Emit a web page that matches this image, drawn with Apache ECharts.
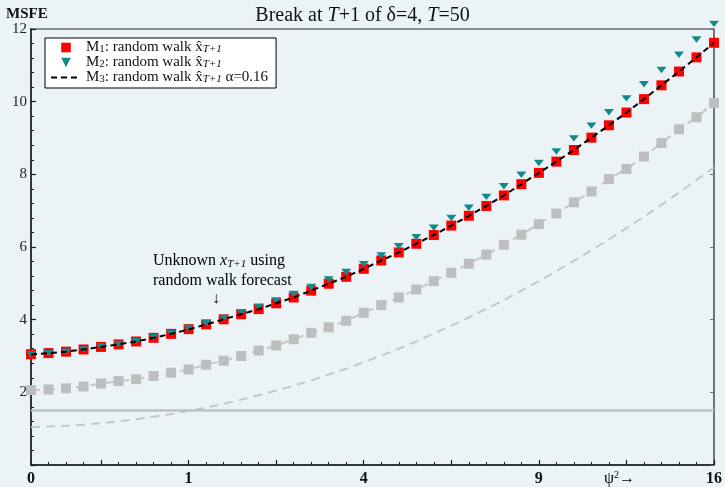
<!DOCTYPE html>
<html>
<head>
<meta charset="utf-8">
<script src="https://cdn.jsdelivr.net/npm/echarts@6/dist/echarts.min.js"></script>
<style>
  html, body { margin: 0; padding: 0; background: #ecf3f7; }
  #chart { width: 725px; height: 487px; }
</style>
</head>
<body>
<div id="chart"></div>
<script>
// psi values (x positions); axis is labelled in psi^2
const psi = [0.1, 0.2, 0.3, 0.4, 0.5, 0.6, 0.7, 0.8, 0.9, 1.0,
             1.1, 1.2, 1.3, 1.4, 1.5, 1.6, 1.7, 1.8, 1.9, 2.0,
             2.1, 2.2, 2.3, 2.4, 2.5, 2.6, 2.7, 2.8, 2.9, 3.0,
             3.1, 3.2, 3.3, 3.4, 3.5, 3.6, 3.7, 3.8, 3.9, 4.0];

// M1: random walk forecast (red squares)
const m1 = [3.05, 3.08, 3.12, 3.18, 3.25, 3.32, 3.40, 3.50, 3.61, 3.74,
            3.87, 4.01, 4.15, 4.29, 4.45, 4.61, 4.80, 4.99, 5.18, 5.40,
            5.63, 5.85, 6.09, 6.33, 6.59, 6.86, 7.13, 7.42, 7.73, 8.04,
            8.35, 8.67, 9.01, 9.35, 9.70, 10.07, 10.45, 10.83, 11.22, 11.62];

// M2: random walk forecast (teal triangles)
const m2 = [3.05, 3.08, 3.12, 3.18, 3.26, 3.33, 3.41, 3.52, 3.63, 3.77,
            3.90, 4.05, 4.20, 4.36, 4.53, 4.71, 4.90, 5.11, 5.31, 5.53,
            5.77, 6.02, 6.27, 6.53, 6.80, 7.08, 7.38, 7.67, 7.99, 8.31,
            8.63, 8.99, 9.34, 9.71, 10.09, 10.48, 10.87, 11.29, 11.71, 12.14];

// M3: random walk forecast with alpha = 0.16 (black dashed)
const m3 = [3.04, 3.08, 3.12, 3.18, 3.25, 3.32, 3.40, 3.50, 3.61, 3.73,
            3.87, 4.01, 4.15, 4.29, 4.45, 4.61, 4.80, 4.99, 5.18, 5.40,
            5.63, 5.85, 6.09, 6.33, 6.59, 6.86, 7.13, 7.42, 7.73, 8.04,
            8.35, 8.67, 9.01, 9.35, 9.70, 10.07, 10.45, 10.83, 11.22, 11.62];

// Unknown x_{T+1} using random walk forecast (grey squares)
const unknownRW = [2.06, 2.08, 2.11, 2.16, 2.24, 2.31, 2.36, 2.45, 2.54, 2.63,
                   2.76, 2.87, 3.00, 3.15, 3.29, 3.46, 3.64, 3.79, 3.97, 4.19,
                   4.40, 4.61, 4.83, 5.06, 5.29, 5.54, 5.79, 6.06, 6.34, 6.63,
                   6.92, 7.23, 7.53, 7.87, 8.15, 8.49, 8.86, 9.24, 9.57, 9.96];

// lower grey dashed curve
const lowerCurve = [1.04, 1.06, 1.08, 1.11, 1.15, 1.20, 1.26, 1.33, 1.40, 1.49,
                    1.58, 1.68, 1.80, 1.92, 2.05, 2.18, 2.33, 2.49, 2.65, 2.83,
                    3.01, 3.20, 3.40, 3.62, 3.83, 4.06, 4.30, 4.54, 4.80, 5.06,
                    5.34, 5.62, 5.91, 6.21, 6.52, 6.83, 7.16, 7.50, 7.84, 8.19];

// horizontal reference level
const benchmark = 1.5;

// x tick labels (psi^2) and their psi positions
const xLabelPos = [0.1, 1, 2, 3, 4];
const xLabelText = ['0', '1', '4', '9', '16'];
const xMajorTicks = [0.5, 1, 1.5, 2, 2.5, 3, 3.5, 4];

const pairs = (ys) => psi.map((p, i) => [p, ys[i]]);
const minorTicks = psi.slice();

const serif = '"Liberation Serif", "DejaVu Serif", serif';
const legendRich = {
  t: { fontFamily: serif, fontSize: 15, color: '#111', lineHeight: 14 },
  s: { fontFamily: serif, fontSize: 11, color: '#111', lineHeight: 2, verticalAlign: 'bottom' },
  si: { fontFamily: serif, fontSize: 11, fontStyle: 'italic', color: '#111', lineHeight: 2, verticalAlign: 'bottom' }
};
const legendNames = {
  M1: '{t|M}{s|1}{t|: random walk x̂}{si|T+1}',
  M2: '{t|M}{s|2}{t|: random walk x̂}{si|T+1}',
  M3: '{t|M}{s|3}{t|: random walk x̂}{si|T+1}{t| α=0.16}'
};

const chart = echarts.init(document.getElementById('chart'));

const axisBlack = '#1a1a1a';

chart.setOption({
  backgroundColor: '#ecf3f7',
  animation: false,
  title: {
    text: '{n|Break at }{i|T}{n|+1 of δ=4, }{i|T}{n|=50}',
    left: 'center',
    top: 1,
    textStyle: {
      fontWeight: 'normal',
      rich: {
        n: { fontFamily: serif, fontSize: 20, fontWeight: 'normal', color: '#111' },
        i: { fontFamily: serif, fontSize: 20, fontWeight: 'normal', fontStyle: 'italic', color: '#111' }
      }
    }
  },
  grid: {
    left: 31, right: 10, top: 29, bottom: 21,
    show: true, borderColor: '#6b6b6b', borderWidth: 1.5,
    backgroundColor: 'transparent'
  },
  legend: {
    orient: 'vertical',
    left: 45, top: 38,
    backgroundColor: '#ffffff',
    borderColor: '#000', borderWidth: 1, borderRadius: 0,
    padding: [2, 8, 3, 5],
    itemWidth: 30, itemHeight: 12, itemGap: 0,
    selectedMode: false,
    formatter: (name) => legendNames[name],
    textStyle: { rich: legendRich },
    data: [
      { name: 'M1', lineStyle: { opacity: 0 } },
      { name: 'M2', lineStyle: { opacity: 0 } },
      { name: 'M3', itemStyle: { opacity: 0 } }
    ]
  },
  xAxis: [
    {
      type: 'value', min: 0.1, max: 4,
      axisLine: { show: true, lineStyle: { color: axisBlack, width: 1.5 } },
      axisTick: { show: true, inside: true, length: 5, customValues: xMajorTicks,
                  lineStyle: { color: axisBlack, width: 1.2 } },
      axisLabel: {
        show: true, customValues: xLabelPos, margin: 6,
        formatter: (v) => {
          const k = xLabelPos.findIndex(p => Math.abs(p - v) < 1e-6);
          return k >= 0 ? xLabelText[k] : '';
        },
        fontFamily: serif, fontSize: 16, fontWeight: 'bold', color: '#111'
      },
      splitLine: { show: false }
    },
    {
      type: 'value', min: 0.1, max: 4, position: 'bottom',
      axisLine: { show: false },
      axisTick: { show: true, inside: true, length: 3, customValues: minorTicks,
                  lineStyle: { color: axisBlack, width: 1 } },
      axisLabel: { show: false },
      splitLine: { show: false }
    }
  ],
  yAxis: [
    {
      type: 'value', min: 0, max: 12, interval: 2,
      axisLine: { show: true, lineStyle: { color: axisBlack, width: 1.5 } },
      axisTick: { show: true, inside: true, length: 5, lineStyle: { color: axisBlack, width: 1.2 } },
      minorTick: { show: true, splitNumber: 5, length: 3, lineStyle: { color: axisBlack, width: 1 } },
      axisLabel: {
        showMinLabel: false, margin: 4,
        fontFamily: serif, fontSize: 15, color: '#222'
      },
      splitLine: { show: false },
      minorSplitLine: { show: false }
    },
    {
      type: 'value', min: 0, max: 12, interval: 2, position: 'right',
      axisLine: { show: true, lineStyle: { color: '#6b6b6b', width: 1.5 } },
      axisTick: { show: true, inside: true, length: 4, lineStyle: { color: '#6b6b6b' } },
      axisLabel: { show: false },
      splitLine: { show: false }
    }
  ],
  series: [
    {
      name: 'lower',
      type: 'line',
      data: pairs(lowerCurve),
      symbol: 'none',
      lineStyle: { color: '#c6c6c6', width: 2, type: [9, 6] },
      z: 1,
      markLine: {
        silent: true,
        symbol: 'none',
        label: { show: false },
        lineStyle: { color: '#c0c0c0', width: 2.5, type: 'solid' },
        data: [{ yAxis: benchmark }]
      }
    },
    {
      name: 'unknownRW',
      type: 'line',
      data: pairs(unknownRW),
      symbol: 'rect', symbolSize: 10, showAllSymbol: true,
      itemStyle: { color: '#bebebe' },
      lineStyle: { color: '#c6c6c6', width: 2, type: [9, 6] },
      z: 2
    },
    {
      name: 'M1',
      type: 'line',
      data: pairs(m1),
      symbol: 'rect', symbolSize: 10, showAllSymbol: true,
      itemStyle: { color: '#ff0000' },
      lineStyle: { width: 0, opacity: 0 },
      z: 3
    },
    {
      name: 'M2',
      type: 'line',
      data: pairs(m2),
      symbol: 'path://M0,0 L10,0 L5,8 Z', symbolSize: [10, 8], symbolKeepAspect: true,
      showAllSymbol: true,
      clip: false,
      itemStyle: { color: '#138a8a' },
      lineStyle: { width: 0, opacity: 0 },
      z: 4
    },
    {
      name: 'M3',
      type: 'line',
      data: pairs(m3),
      symbol: 'none',
      itemStyle: { color: '#000' },
      lineStyle: { color: '#000', width: 2, type: [6, 4] },
      z: 5
    }
  ],
  graphic: [
    {
      type: 'text', left: 6, top: 7,
      style: { text: 'MSFE', font: 'bold 15px ' + serif, fill: '#111' }
    },
    {
      type: 'text', left: 153, top: 252,
      style: {
        text: '{t|Unknown }{x|x}{s|T+1}{t| using}\n{t|random walk forecast}',
        rich: {
          t: { fontFamily: serif, fontSize: 16, color: '#111', lineHeight: 20 },
          x: { fontFamily: serif, fontSize: 16, fontStyle: 'italic', color: '#111', lineHeight: 20 },
          s: { fontFamily: serif, fontSize: 11, fontStyle: 'italic', color: '#111', padding: [7, 0, 0, 0], lineHeight: 20 }
        }
      }
    },
    {
      type: 'text', left: 212, top: 291,
      style: { text: '↓', font: '16px ' + serif, fill: '#111' }
    },
    {
      type: 'text', left: 604, top: 470,
      style: {
        text: '{t|ψ}{s|2}{t|→}',
        rich: {
          t: { fontFamily: serif, fontSize: 16, color: '#222' },
          s: { fontFamily: serif, fontSize: 10, color: '#222', padding: [0, 0, 8, 0] }
        }
      }
    }
  ]
});
</script>
</body>
</html>
